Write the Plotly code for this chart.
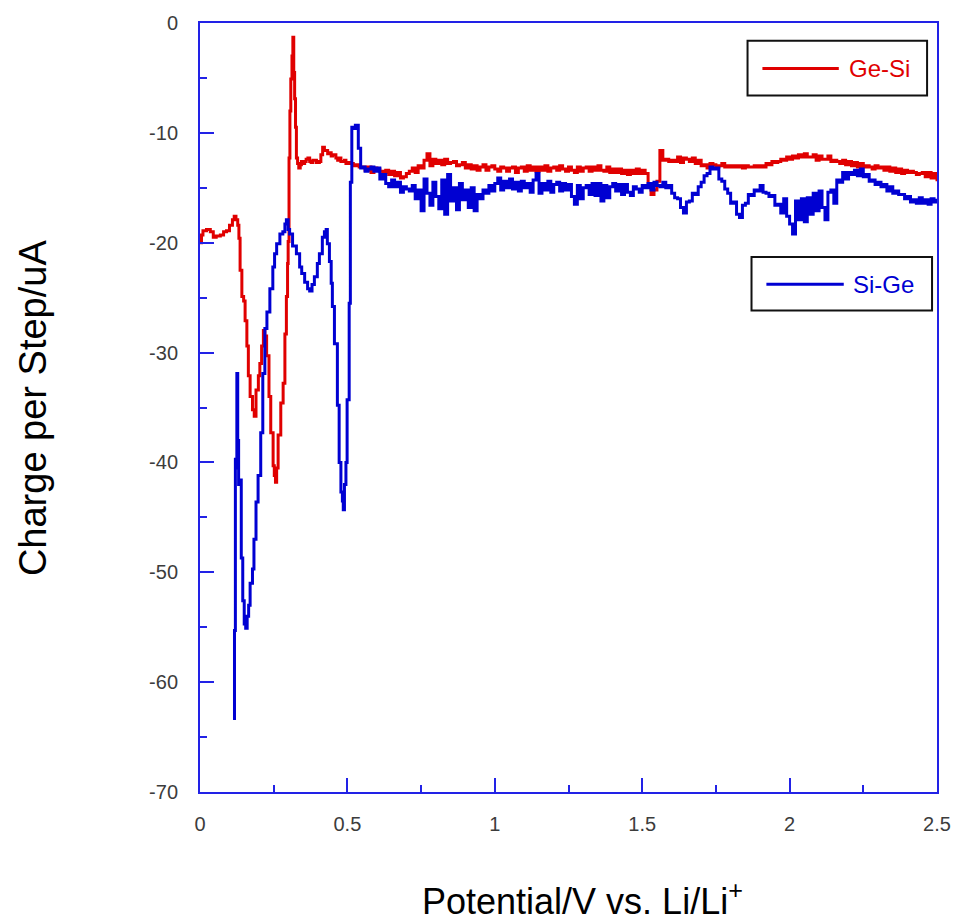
import plotly.graph_objects as go

# ---- Ge-Si sweep: potential (V vs. Li/Li+) and charge per step (uA) ----
ge_si_low_v = [0.000, 0.005, 0.010, 0.022, 0.035, 0.045, 0.055, 0.069, 0.080, 0.090,
               0.100, 0.110, 0.116, 0.122, 0.128, 0.132, 0.136, 0.142, 0.148, 0.153,
               0.159, 0.164, 0.170, 0.178, 0.184, 0.190, 0.198, 0.203, 0.209, 0.215,
               0.220, 0.226, 0.234, 0.240, 0.248, 0.252, 0.256, 0.260, 0.265, 0.274,
               0.282, 0.288, 0.293, 0.297, 0.299, 0.302, 0.305, 0.308, 0.312, 0.315,
               0.318, 0.321, 0.324, 0.327, 0.331, 0.335, 0.340, 0.344, 0.350, 0.355,
               0.360, 0.366, 0.372, 0.377, 0.383, 0.388, 0.395, 0.405, 0.410, 0.416,
               0.422, 0.428, 0.433, 0.439, 0.445, 0.450, 0.456, 0.461, 0.467, 0.472,
               0.478, 0.484, 0.490, 0.495, 0.500, 0.510, 0.520, 0.530, 0.540]
ge_si_low_q = [-20.0, -19.3, -18.9, -18.8, -19.0, -19.5, -19.4, -19.3, -19.0, -18.9,
               -18.4, -17.9, -17.6, -17.9, -18.4, -19.6, -22.5, -24.9, -25.3, -27.1,
               -29.4, -32.1, -34.0, -35.2, -35.8, -33.4, -32.1, -31.0, -29.4, -28.0,
               -28.5, -30.3, -34.0, -37.3, -40.3, -41.2, -41.8, -40.5, -37.5, -34.6,
               -32.8, -28.3, -24.9, -21.9, -19.9, -12.3, -8.0, -5.1, -3.0, -1.3,
               -4.5, -6.9, -9.5, -12.3, -12.8, -13.2, -12.9, -12.6, -12.8, -12.6,
               -12.4, -12.3, -12.6, -12.7, -12.5, -12.5, -12.7, -12.6, -12.0, -11.3,
               -11.6, -11.6, -11.9, -11.8, -12.1, -12.0, -12.0, -12.3, -12.5, -12.3,
               -12.6, -12.6, -12.5, -12.8, -12.7, -12.8, -13.0, -12.9, -13.1]

# 0.55 V .. 2.50 V in 10 mV steps
ge_si_high_q = [
    -13.1, -13.4, -13.1, -13.6, -13.2, -13.3,
    -13.5, -13.6, -13.4, -13.8, -13.5, -13.9, -13.6, -14.1, -14.0, -13.7,
    -13.5, -13.2, -13.6, -13.0, -13.2, -12.5, -11.9, -13.0, -12.4, -12.8,
    -12.5, -12.9, -12.4, -12.8, -12.7, -12.6, -13.0, -12.9, -12.7, -13.2,
    -12.9, -13.3, -13.0, -13.4, -13.1, -12.9, -13.4, -13.1, -13.0, -13.3,
    -13.5, -13.1, -13.2, -13.5, -13.2, -13.1, -13.6, -13.2, -13.1, -13.5,
    -13.0, -13.4, -13.1, -13.5, -13.1, -13.4, -13.0, -13.5, -13.2, -13.1,
    -13.4, -13.0, -13.3, -13.5, -13.1, -13.4, -13.6, -13.1, -13.5, -13.2,
    -13.1, -13.5, -13.1, -13.4, -13.0, -13.4, -13.5, -13.1, -13.6, -13.3,
    -13.6, -13.3, -13.7, -13.4, -13.8, -13.4, -13.7, -13.3, -13.7, -13.4,
    -13.7, -14.6, -15.6, -15.2, -14.4, -11.6, -12.5, -12.4, -12.6, -12.5,
    -12.6, -12.2, -12.7, -12.3, -12.4, -12.6, -12.3, -12.8, -12.5, -13.0,
    -12.9, -13.2, -12.8, -12.9, -13.1, -13.0, -12.8, -13.1, -13.0, -13.1,
    -13.0, -13.1, -13.0, -13.2, -13.0, -13.1, -13.1, -13.0, -13.1, -13.0,
    -13.1, -12.8, -12.9, -12.6, -12.7, -12.6, -12.4, -12.5, -12.2, -12.4,
    -12.1, -12.3, -12.0, -12.2, -11.9, -12.2, -12.2, -12.0, -12.5, -12.1,
    -12.4, -12.4, -12.1, -12.6, -12.5, -12.6, -12.8, -12.5, -12.9, -12.6,
    -13.0, -12.7, -13.1, -12.8, -13.1, -13.0, -13.1, -13.3, -13.0, -13.2,
    -13.1, -13.4, -13.1, -13.5, -13.2, -13.6, -13.3, -13.7, -13.4, -13.6,
    -13.5, -13.6, -13.8, -13.7, -13.6, -14.0, -13.6, -14.1, -13.7, -14.4]

# ---- Si-Ge sweep ----
si_ge_low_v = [0.112, 0.117, 0.120, 0.123, 0.125, 0.128, 0.131, 0.136, 0.140, 0.145,
               0.150, 0.155, 0.160, 0.165, 0.170, 0.178, 0.183, 0.190, 0.197, 0.206,
               0.213, 0.220, 0.227, 0.237, 0.247, 0.253, 0.260, 0.271, 0.281, 0.288,
               0.293, 0.299, 0.304, 0.314, 0.327, 0.338, 0.345, 0.355, 0.365, 0.372,
               0.380, 0.388, 0.398, 0.405, 0.415, 0.422, 0.428, 0.432, 0.439, 0.445,
               0.449, 0.456, 0.466, 0.472, 0.478, 0.483, 0.486, 0.490, 0.495, 0.499,
               0.506, 0.510, 0.515, 0.520, 0.527, 0.533, 0.537, 0.545]
si_ge_low_q = [-63.3, -55.3, -39.7, -40.5, -31.9, -38.0, -42.0, -41.6, -48.7, -52.6,
               -54.7, -55.1, -54.0, -53.0, -51.0, -49.7, -47.0, -43.6, -41.2, -37.3,
               -31.9, -27.8, -26.3, -24.2, -22.2, -21.0, -20.1, -19.2, -19.0, -18.3,
               -17.9, -18.8, -19.2, -20.3, -21.0, -22.2, -22.8, -23.6, -24.2, -24.4,
               -23.8, -23.1, -21.9, -21.0, -19.5, -19.0, -18.8, -20.1, -21.7, -23.7,
               -25.8, -29.2, -34.8, -40.0, -42.7, -43.5, -44.3, -42.0, -40.0, -34.3,
               -25.5, -14.5, -9.5, -9.6, -9.3, -9.3, -11.4, -13.2]

si_ge_high_q = [
    -13.1, -13.5, -13.3, -13.1, -13.5, -13.2,
    -14.2, -13.8, -14.6, -14.9, -14.3, -14.9, -14.5, -15.4, -14.9, -15.1,
    -15.3, -14.8, -16.0, -15.2, -17.1, -14.2, -15.5, -16.6, -14.5, -15.8,
    -16.9, -14.3, -17.4, -13.8, -16.2, -15.0, -17.0, -14.6, -16.1, -15.2,
    -16.8, -15.0, -17.1, -15.6, -16.0, -15.2, -15.5, -14.8, -15.3, -14.6,
    -14.1, -15.2, -14.4, -15.0, -14.2, -15.1, -14.5, -15.3, -14.4, -15.0,
    -14.6, -15.4, -14.3, -13.7, -15.5, -14.6, -15.2, -14.4, -15.4, -14.7,
    -14.5, -15.3, -14.6, -15.2, -14.7, -15.8, -16.5, -14.8, -16.0, -15.0,
    -14.8, -15.6, -14.6, -15.7, -14.6, -16.2, -14.8, -15.9, -14.9, -14.6,
    -15.3, -14.7, -15.6, -14.7, -15.4, -15.7, -14.9, -15.1, -15.4, -14.8,
    -15.0, -14.6, -15.2, -14.5, -14.8, -14.9, -14.5, -15.0, -14.8, -15.5,
    -15.9, -16.0, -16.8, -17.3, -16.3, -16.2, -15.5, -15.6, -14.9, -14.5,
    -13.9, -13.7, -13.1, -13.3, -13.2, -14.2, -14.4, -15.1, -15.5, -16.4,
    -16.3, -17.4, -17.7, -16.6, -16.4, -15.6, -15.7, -15.2, -15.3, -14.8,
    -15.4, -15.5, -15.8, -15.7, -16.6, -16.5, -17.3, -16.0, -17.6, -18.3,
    -19.2, -16.2, -17.9, -16.0, -18.1, -15.9, -17.4, -15.5, -17.1, -15.3,
    -16.8, -17.9, -15.4, -15.2, -16.4, -14.3, -14.5, -13.6, -14.2, -13.6,
    -13.8, -13.4, -13.9, -13.3, -14.0, -13.8, -14.4, -14.3, -14.7, -14.5,
    -14.9, -14.7, -15.3, -14.9, -15.5, -15.3, -15.6, -15.6, -16.0, -15.8,
    -16.3, -16.1, -16.4, -15.9, -16.4, -16.1, -16.5, -16.0, -16.3, -16.0]

high_v = [round(0.55 + 0.01 * i, 2) for i in range(len(ge_si_high_q))]

y_tick_vals = [0, -10, -20, -30, -40, -50, -60, -70]
y_tick_text = ["0", "-10", "-20", "-30", "-40", "-50", "-60", "-70"]
x_tick_vals = [0, 0.5, 1, 1.5, 2, 2.5]
x_tick_text = ["0", "0.5", "1", "1.5", "2", "2.5"]

RED = "#e00000"
BLUE = "#0000d2"
AXIS = "#2222e6"
FONT = "Arial, Liberation Sans, Helvetica, sans-serif"

fig = go.Figure()
fig.add_trace(go.Scatter(x=ge_si_low_v + high_v, y=ge_si_low_q + ge_si_high_q,
                         mode="lines", name="Ge-Si", line_shape="hv",
                         line=dict(color=RED, width=3)))
fig.add_trace(go.Scatter(x=si_ge_low_v + high_v, y=si_ge_low_q + si_ge_high_q,
                         mode="lines", name="Si-Ge", line_shape="hv",
                         line=dict(color=BLUE, width=3)))

# plot-area geometry in pixels, used to place the boxed legends
L, R, T, B = 200, 943, 17, 792.5
W, H = R - L, B - T


def px(x):
    return (x - L) / W


def py(y):
    return (B - y) / H


legends = [
    ("Ge-Si", RED, (752, 933, 35, 90), (767, 844), 852),
    ("Si-Ge", BLUE, (756, 938, 253, 307), (771, 849), 856),
]
for label, color, (bx0, bx1, by0, by1), (lx0, lx1), tx in legends:
    ymid = (by0 + by1) / 2 + 0.5
    fig.add_shape(type="rect", xref="paper", yref="paper",
                  x0=px(bx0), x1=px(bx1), y0=py(by1), y1=py(by0),
                  line=dict(color="#111111", width=2), fillcolor="white", layer="above")
    fig.add_shape(type="line", xref="paper", yref="paper",
                  x0=px(lx0), x1=px(lx1), y0=py(ymid), y1=py(ymid),
                  line=dict(color=color, width=3), layer="above")
    fig.add_annotation(xref="paper", yref="paper", x=px(tx), y=py(ymid),
                       xanchor="left", yanchor="middle", showarrow=False,
                       text=label, font=dict(family=FONT, size=24, color=color))

# axis titles
fig.add_annotation(xref="paper", yref="paper", x=px(31), y=py(405),
                   xanchor="center", yanchor="middle", showarrow=False, textangle=-90,
                   text="Charge per Step/uA", font=dict(family=FONT, size=38, color="black"))
fig.add_annotation(xref="paper", yref="paper", x=px(586), y=py(900),
                   xanchor="center", yanchor="middle", showarrow=False,
                   text="Potential/V vs. Li/Li<sup>+</sup>",
                   font=dict(family=FONT, size=36, color="black"))

fig.update_layout(
    width=963, height=922,
    margin=dict(l=L, r=963 - R, t=T, b=922 - B),
    paper_bgcolor="white", plot_bgcolor="white",
    showlegend=False,
    font=dict(family=FONT, size=20, color="#3c3c3c"),
)
fig.update_xaxes(range=[0, 2.5], tickvals=x_tick_vals, ticktext=x_tick_text,
                 ticks="inside", ticklen=14, tickwidth=2, tickcolor=AXIS,
                 minor=dict(dtick=0.25, ticks="inside", ticklen=7, tickwidth=2, tickcolor=AXIS),
                 showline=True, linecolor=AXIS, linewidth=2, mirror=True,
                 showgrid=False, zeroline=False, ticklabelstandoff=13,
                 tickfont=dict(size=20, color="#3c3c3c"))
fig.update_yaxes(range=[-70, 0], tickvals=y_tick_vals, ticktext=y_tick_text,
                 ticks="inside", ticklen=14, tickwidth=2, tickcolor=AXIS,
                 minor=dict(dtick=5, ticks="inside", ticklen=7, tickwidth=2, tickcolor=AXIS),
                 showline=True, linecolor=AXIS, linewidth=2, mirror=True,
                 showgrid=False, zeroline=False, ticklabelstandoff=16,
                 tickfont=dict(size=20, color="#3c3c3c"))

fig.write_html("out.html")
